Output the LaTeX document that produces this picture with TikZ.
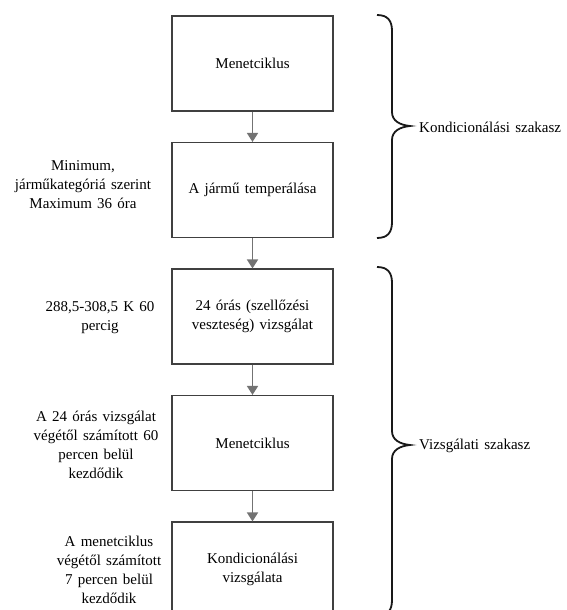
\documentclass[tikz,border=0pt]{standalone}
\usepackage{fontspec}
\setmainfont{Liberation Serif}[WordSpace=1.4]
\usetikzlibrary{arrows.meta}
\begin{document}
\begin{tikzpicture}[x=1pt,y=-1pt,
  stepbox/.style={draw=black!75,line width=1.1pt,minimum width=161pt,minimum height=95pt,inner sep=0pt,align=center,font=\fontsize{15}{19.5}\selectfont},
  note/.style={align=center,font=\fontsize{15}{19}\selectfont,inner sep=0pt},
  flow/.style={draw=black!55,line width=1.6pt,-{Triangle[width=11pt,length=9pt]}},
  brc/.style={draw=black!90,line width=1.8pt}]
\useasboundingbox (0,0) rectangle (567,610);
\clip (0,0) rectangle (567,610);
\node[stepbox] (b1) at (252.5,63.5) {Menetciklus};
\node[stepbox] (b2) at (252.5,190) {A jármű temperálása};
\node[stepbox] (b3) at (252.5,316.5) {24 órás (szellőzési\\veszteség) vizsgálat};
\node[stepbox] (b4) at (252.5,443) {Menetciklus};
\node[stepbox] (b5) at (252.5,569.5) {Kondicionálási\\vizsgálata};
\draw[flow] (b1.south) -- (b2.north);
\draw[flow] (b2.south) -- (b3.north);
\draw[flow] (b3.south) -- (b4.north);
\draw[flow] (b4.south) -- (b5.north);
\node[note] (n2) at (83,185) {Minimum,\\járműkategóriá szerint\\Maximum 36 óra};
\node[note] (n3) at (100,318) {288,5-308,5 K 60\\percig};
\node[note] (n4) at (96,445) {A 24 órás vizsgálat\\végétől számított 60\\percen belül\\kezdődik};
\node[note] (n5) at (109,570) {A menetciklus\\végétől számított\\7 percen belül\\kezdődik};
\coordinate (t1) at (410,126);
\coordinate (t2) at (410,445);
\draw[brc] (377,15) .. controls (388,15) and (392,21) .. (392,31) -- (392,112)
  .. controls (392,121) and (400,125) .. (t1)
  .. controls (400,127) and (392,131) .. (392,140) -- (392,222)
  .. controls (392,232) and (388,238) .. (377,238);
\draw[brc] (377,267) .. controls (388,267) and (392,273) .. (392,283) -- (392,431)
  .. controls (392,440) and (400,444) .. (t2)
  .. controls (400,446) and (392,450) .. (392,459) -- (392,600)
  .. controls (392,610) and (388,616) .. (377,616);
\node[note,anchor=west] (k1) at (419,127) {Kondicionálási szakasz};
\node[note,anchor=west] (k2) at (419,446) {Vizsgálati szakasz};
\end{tikzpicture}
\end{document}
